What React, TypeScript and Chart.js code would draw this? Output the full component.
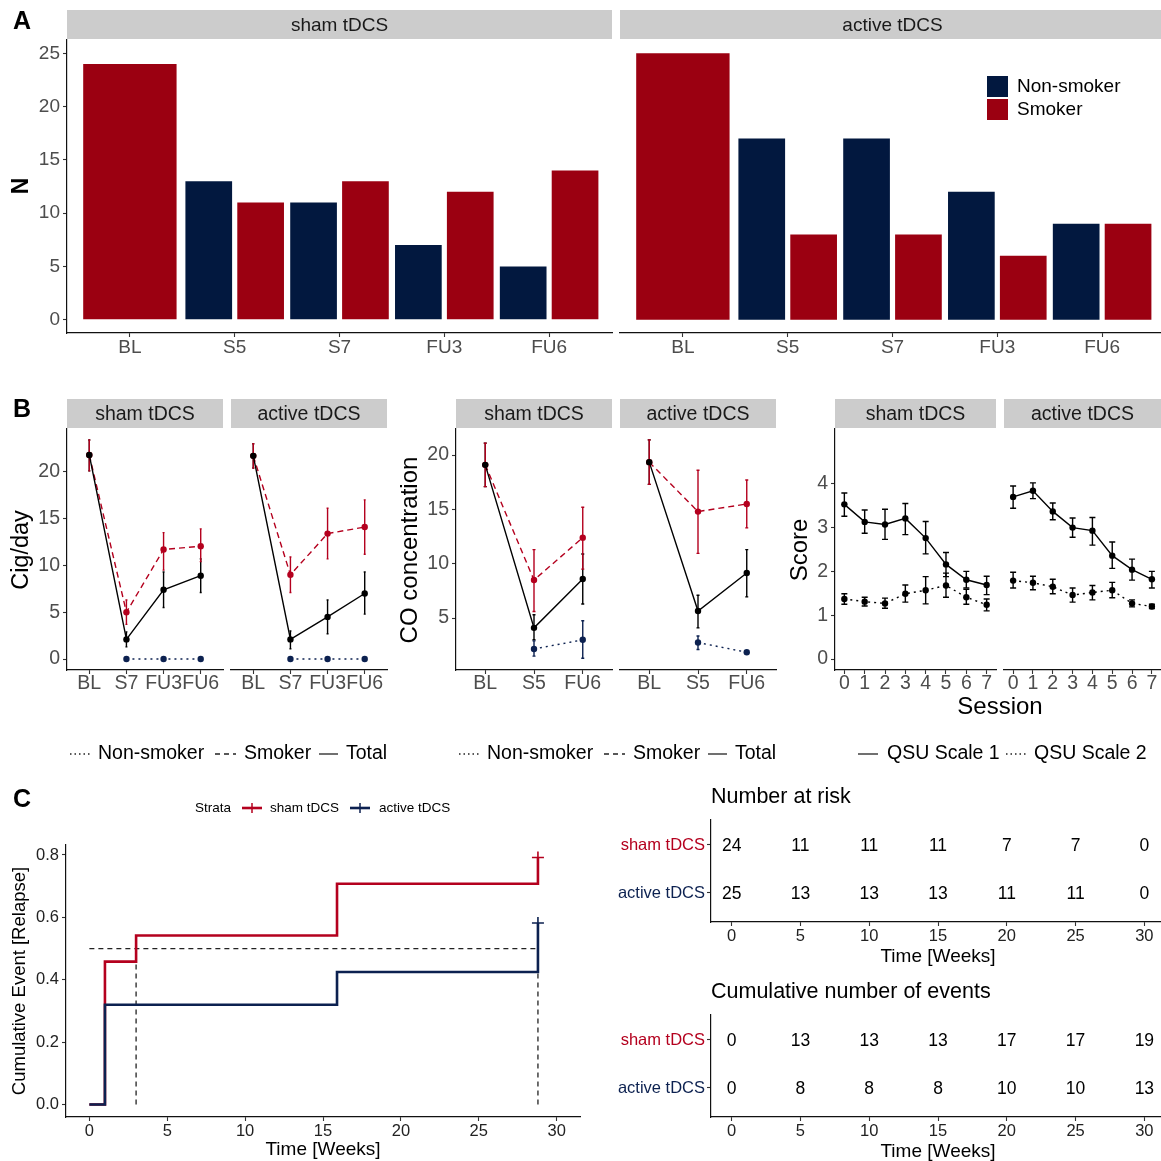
import React, { useEffect, useRef } from 'react';
import { Chart, registerables } from 'chart.js';

Chart.register(...registerables);

const FONT = "'Liberation Sans', Arial, Helvetica, sans-serif";
const TICK_GREY = '#4d4d4d';
const NAVY_A = '#02183f';
const RED_A = '#9b0011';
const RED = '#b4001e';
const NAVY = '#0c2150';
const STRIP = '#cccccc';

// ---------------- Panel A: counts
const timepointsA = ['BL', 'S5', 'S7', 'FU3', 'FU6'];
const shamNonSmoker = [null, 13, 11, 7, 5];
const shamSmoker = [24, 11, 13, 12, 14];
const activeNonSmoker = [null, 17, 17, 12, 9];
const activeSmoker = [25, 8, 8, 6, 9];
const countTicks = [0, 5, 10, 15, 20, 25];

// ---------------- Panel B: cigarettes per day
const cigTimepoints = ['BL', 'S7', 'FU3', 'FU6'];
const cigShamTotal = [21.8, 2.1, 7.4, 8.9];
const cigShamTotalLo = [20.1, 1.3, 5.5, 7.1];
const cigShamTotalHi = [23.4, 2.9, 9.3, 10.7];
const cigShamSmoker = [21.8, 5.0, 11.7, 12.05];
const cigShamSmokerLo = [20.1, 3.7, 9.5, 10.4];
const cigShamSmokerHi = [23.4, 6.3, 13.5, 13.9];
const cigShamNon = [null, 0, 0, 0];
const cigActiveTotal = [21.7, 2.1, 4.5, 7.0];
const cigActiveTotalLo = [20.4, 1.1, 2.7, 4.8];
const cigActiveTotalHi = [23.0, 3.0, 6.3, 9.3];
const cigActiveSmoker = [21.7, 9.0, 13.4, 14.1];
const cigActiveSmokerLo = [20.4, 7.1, 10.7, 11.2];
const cigActiveSmokerHi = [23.0, 10.9, 16.1, 17.0];
const cigActiveNon = [null, 0, 0, 0];
const cigTicks = [0, 5, 10, 15, 20];

// ---------------- Panel B: CO concentration
const coTimepoints = ['BL', 'S5', 'FU6'];
const coShamTotal = [19.1, 4.1, 8.6];
const coShamTotalLo = [17.1, 3.0, 6.3];
const coShamTotalHi = [21.1, 5.3, 10.9];
const coShamSmoker = [19.1, 8.5, 12.4];
const coShamSmokerLo = [17.1, 5.6, 9.5];
const coShamSmokerHi = [21.1, 11.3, 15.2];
const coShamNon = [null, 2.15, 3.0];
const coShamNonLo = [null, 1.5, 1.3];
const coShamNonHi = [null, 2.9, 4.75];
const coActiveTotal = [19.35, 5.65, 9.15];
const coActiveTotalLo = [17.3, 4.1, 6.95];
const coActiveTotalHi = [21.4, 7.1, 11.3];
const coActiveSmoker = [19.35, 14.8, 15.5];
const coActiveSmokerLo = [17.3, 10.95, 13.3];
const coActiveSmokerHi = [21.4, 18.6, 17.7];
const coActiveNon = [null, 2.75, 1.85];
const coActiveNonLo = [null, 2.1, 1.75];
const coActiveNonHi = [null, 3.35, 1.95];
const coTicks = [5, 10, 15, 20];

// ---------------- Panel B: QSU scores
const sessions = [0, 1, 2, 3, 4, 5, 6, 7];
const qsu1Sham = [3.53, 3.13, 3.07, 3.21, 2.76, 2.16, 1.81, 1.69];
const qsu1ShamLo = [3.26, 2.87, 2.73, 2.84, 2.4, 1.88, 1.62, 1.47];
const qsu1ShamHi = [3.79, 3.4, 3.42, 3.55, 3.14, 2.43, 2.0, 1.89];
const qsu2Sham = [1.37, 1.31, 1.27, 1.49, 1.57, 1.68, 1.41, 1.24];
const qsu2ShamLo = [1.25, 1.21, 1.16, 1.3, 1.26, 1.41, 1.25, 1.1];
const qsu2ShamHi = [1.49, 1.41, 1.39, 1.69, 1.88, 1.96, 1.59, 1.37];
const qsu1Active = [3.7, 3.84, 3.37, 3.0, 2.93, 2.36, 2.04, 1.82];
const qsu1ActiveLo = [3.44, 3.66, 3.18, 2.78, 2.6, 2.07, 1.8, 1.62];
const qsu1ActiveHi = [3.95, 4.02, 3.56, 3.22, 3.23, 2.67, 2.28, 2.0];
const qsu2Active = [1.79, 1.74, 1.65, 1.46, 1.52, 1.57, 1.27, 1.2];
const qsu2ActiveLo = [1.62, 1.58, 1.49, 1.3, 1.35, 1.4, 1.19, 1.15];
const qsu2ActiveHi = [1.98, 1.89, 1.82, 1.62, 1.68, 1.75, 1.35, 1.25];
const scoreTicks = [0, 1, 2, 3, 4];

// ---------------- Panel C: cumulative events (Kaplan-Meier)
const kmShamTimes = [0, 1, 3, 15.9, 28.8];
const kmShamEvent = [0, 0.458, 0.542, 0.708, 0.792];
const kmActiveTimes = [0, 1, 15.9, 28.8];
const kmActiveEvent = [0, 0.32, 0.425, 0.582];
const kmMedianSham = 3;
const kmMedianActive = 28.8;
const kmYTicks = [0, 0.2, 0.4, 0.6, 0.8];
const weekTicks = [0, 5, 10, 15, 20, 25, 30];

// ---------------- Panel C: risk tables
const tableTimes = [0, 5, 10, 15, 20, 25, 30];
const riskSham = [24, 11, 11, 11, 7, 7, 0];
const riskActive = [25, 13, 13, 13, 11, 11, 0];
const eventsSham = [0, 13, 13, 13, 17, 17, 19];
const eventsActive = [0, 8, 8, 8, 10, 10, 13];
const strata = ['sham tDCS', 'active tDCS'];

// ---------------------------------------------------------------
type AxisSpec = {
  min: number;
  max: number;
  ticks: number[];
  fmt?: (v: number) => string;
  show?: boolean;
  size?: number;
  color?: any;
  pad?: number;
  tickLen?: number;
};
type TextItem = {
  t: string;
  x: number;
  y: number;
  size: number;
  bold?: boolean;
  color?: string;
  rot?: boolean;
  align?: CanvasTextAlign;
};
type KeyItem =
  | { kind: 'line'; x0: number; x1: number; y: number; color: string; dash?: number[]; width?: number }
  | { kind: 'box'; x0: number; x1: number; y0: number; y1: number; color: string }
  | { kind: 'vtick'; x: number; y0: number; y1: number; color: string; width?: number };

interface FacetOpts {
  type: 'bar' | 'line' | 'scatter';
  rect: [number, number, number, number];
  pad: { l: number; t: number; r: number; b: number };
  datasets: () => any[];
  x: AxisSpec;
  y: AxisSpec;
  strip?: { text: string; y0: number; y1: number; size: number };
  texts?: TextItem[];
  keys?: KeyItem[];
  cap?: number;
  cellFont?: number;
}
interface Spec {
  left: number;
  top: number;
  w: number;
  h: number;
  make: () => any;
}

function axis(a: AxisSpec, horizontal: boolean, size: number) {
  const show = a.show !== false;
  return {
    type: 'linear',
    bounds: 'data',
    offset: false,
    min: a.min,
    max: a.max,
    afterBuildTicks: (s: any) => {
      s.ticks = a.ticks.map((v) => ({ value: v }));
    },
    afterFit: (s: any) => {
      if (horizontal) s.height = size;
      else s.width = size;
      s.paddingLeft = 0;
      s.paddingRight = 0;
      s.paddingTop = 0;
      s.paddingBottom = 0;
    },
    grid: {
      display: show,
      offset: false,
      drawOnChartArea: false,
      drawTicks: true,
      tickLength: a.tickLen ?? 4,
      tickWidth: 1.1,
      tickColor: '#333333',
    },
    border: { display: show, color: '#111111', width: 1.2 },
    ticks: {
      display: show,
      autoSkip: false,
      maxRotation: 0,
      minRotation: 0,
      padding: a.pad ?? 2,
      color: a.color ?? TICK_GREY,
      font: { family: FONT, size: a.size ?? 18, lineHeight: 1 },
      callback: (v: any) => (a.fmt ? a.fmt(Number(v)) : String(v)),
    },
  };
}

function stripPlugin(s: { text: string; y0: number; y1: number; size: number }, top: number) {
  return {
    id: 'facetStrip',
    afterDraw(chart: any) {
      const { ctx, chartArea } = chart;
      ctx.save();
      ctx.fillStyle = STRIP;
      ctx.fillRect(chartArea.left, s.y0 - top, chartArea.right - chartArea.left, s.y1 - s.y0);
      ctx.fillStyle = '#1a1a1a';
      ctx.font = `${s.size}px ${FONT}`;
      ctx.textAlign = 'center';
      ctx.textBaseline = 'middle';
      ctx.fillText(s.text, (chartArea.left + chartArea.right) / 2, (s.y0 + s.y1) / 2 - top + 1);
      ctx.restore();
    },
  };
}

function errorBarPlugin(cap: number) {
  return {
    id: 'errorBars',
    beforeDatasetsDraw(chart: any) {
      const ctx = chart.ctx;
      const xs = chart.scales.x;
      const ys = chart.scales.y;
      chart.data.datasets.forEach((ds: any) => {
        if (!ds.errLo) return;
        ctx.save();
        ctx.strokeStyle = ds.borderColor;
        ctx.lineWidth = 1.4;
        ctx.setLineDash([]);
        ds.data.forEach((p: any, i: number) => {
          const lo = ds.errLo[i];
          const hi = ds.errHi[i];
          if (lo == null || hi == null || p.y == null) return;
          const x = xs.getPixelForValue(p.x);
          const ya = ys.getPixelForValue(lo);
          const yb = ys.getPixelForValue(hi);
          ctx.beginPath();
          ctx.moveTo(x, ya);
          ctx.lineTo(x, yb);
          if (cap > 0) {
            ctx.moveTo(x - cap, ya);
            ctx.lineTo(x + cap, ya);
            ctx.moveTo(x - cap, yb);
            ctx.lineTo(x + cap, yb);
          }
          ctx.stroke();
        });
        ctx.restore();
      });
    },
  };
}

function cellPlugin(size: number) {
  return {
    id: 'cellLabels',
    afterDatasetsDraw(chart: any) {
      const ctx = chart.ctx;
      ctx.save();
      ctx.font = `${size}px ${FONT}`;
      ctx.fillStyle = '#000000';
      ctx.textAlign = 'center';
      ctx.textBaseline = 'middle';
      chart.data.datasets.forEach((ds: any, di: number) => {
        if (!ds.cellLabels) return;
        const meta = chart.getDatasetMeta(di);
        meta.data.forEach((el: any, i: number) => {
          ctx.fillText(String(ds.cellLabels[i]), el.x, el.y + 1);
        });
      });
      ctx.restore();
    },
  };
}

function overlayPlugin(texts: TextItem[], keys: KeyItem[], left: number, top: number) {
  return {
    id: 'overlay',
    afterDraw(chart: any) {
      const ctx = chart.ctx;
      keys.forEach((k) => {
        ctx.save();
        if (k.kind === 'box') {
          ctx.fillStyle = k.color;
          ctx.fillRect(k.x0 - left, k.y0 - top, k.x1 - k.x0, k.y1 - k.y0);
        } else if (k.kind === 'line') {
          ctx.strokeStyle = k.color;
          ctx.lineWidth = k.width ?? 1.3;
          ctx.setLineDash(k.dash ?? []);
          ctx.beginPath();
          ctx.moveTo(k.x0 - left, k.y - top);
          ctx.lineTo(k.x1 - left, k.y - top);
          ctx.stroke();
        } else {
          ctx.strokeStyle = k.color;
          ctx.lineWidth = k.width ?? 1.5;
          ctx.beginPath();
          ctx.moveTo(k.x - left, k.y0 - top);
          ctx.lineTo(k.x - left, k.y1 - top);
          ctx.stroke();
        }
        ctx.restore();
      });
      texts.forEach((it) => {
        ctx.save();
        ctx.translate(it.x - left, it.y - top);
        if (it.rot) ctx.rotate(-Math.PI / 2);
        ctx.font = `${it.bold ? 'bold ' : ''}${it.size}px ${FONT}`;
        ctx.fillStyle = it.color ?? '#000000';
        ctx.textAlign = it.align ?? 'center';
        ctx.textBaseline = 'middle';
        ctx.fillText(it.t, 0, 0);
        ctx.restore();
      });
    },
  };
}

function makeFacet(o: FacetOpts): Spec {
  const [x0, y0, x1, y1] = o.rect;
  const { l, t, r, b } = o.pad;
  const left = x0 - l;
  const top = y0 - t;
  const w = x1 - x0 + l + r;
  const h = y1 - y0 + t + b;
  const make = () => {
    const plugins: any[] = [];
    if (o.strip) plugins.push(stripPlugin(o.strip, top));
    if (o.cap !== undefined) plugins.push(errorBarPlugin(o.cap));
    if (o.cellFont) plugins.push(cellPlugin(o.cellFont));
    plugins.push(overlayPlugin(o.texts ?? [], o.keys ?? [], left, top));
    return {
      type: o.type,
      data: { datasets: o.datasets() },
      options: {
        responsive: false,
        maintainAspectRatio: false,
        animation: false,
        devicePixelRatio: 1,
        events: [],
        layout: { padding: { left: 0, top: t, right: r, bottom: 0 } },
        plugins: {
          legend: { display: false },
          tooltip: { enabled: false },
          title: { display: false },
        },
        scales: {
          x: axis(o.x, true, b),
          y: axis(o.y, false, l),
        },
      },
      plugins,
    };
  };
  return { left, top, w, h, make };
}

// ---------------- dataset helpers
function barSets(non: (number | null)[], smk: (number | null)[]) {
  const common = { categoryPercentage: 0.99, barPercentage: 0.9, skipNull: true, borderWidth: 0 };
  return [
    { ...common, label: 'Non-smoker', data: non.map((v, i) => ({ x: i + 1, y: v })), backgroundColor: NAVY_A },
    { ...common, label: 'Smoker', data: smk.map((v, i) => ({ x: i + 1, y: v })), backgroundColor: RED_A },
  ];
}

function series(
  label: string,
  xs: number[],
  ys: (number | null)[],
  lo: (number | null)[] | null,
  hi: (number | null)[] | null,
  color: string,
  dash: number[],
  r = 3.2,
) {
  return {
    label,
    data: xs.map((x, i) => ({ x, y: ys[i] })),
    errLo: lo,
    errHi: hi,
    borderColor: color,
    backgroundColor: color,
    borderWidth: 1.4,
    borderDash: dash,
    pointRadius: ys.map((v) => (v == null ? 0 : r)),
    pointBackgroundColor: color,
    pointBorderColor: color,
    pointBorderWidth: 0,
    tension: 0,
    fill: false,
    spanGaps: false,
  };
}

const idx = (arr: any[]) => arr.map((_, i) => i + 1);
const DOT = [2, 4];
const DASH = [6, 4];

// ---------------- Specs
const specs: Spec[] = [];

// Panel A
const A_TICK = 19;
specs.push(
  makeFacet({
    type: 'bar',
    rect: [67, 40, 612, 333],
    pad: { l: 67, t: 40, r: 5, b: 30 },
    datasets: () => barSets(shamNonSmoker, shamSmoker),
    x: { min: 0.4, max: 5.6, ticks: [1, 2, 3, 4, 5], fmt: (v) => timepointsA[v - 1], size: A_TICK, pad: 1 },
    y: { min: -1.25, max: 26.25, ticks: countTicks, size: A_TICK, pad: 3 },
    strip: { text: 'sham tDCS', y0: 10, y1: 39, size: 19 },
    texts: [
      { t: 'A', x: 22, y: 22, size: 25, bold: true },
      { t: 'N', x: 22, y: 186, size: 23, bold: true, rot: true },
    ],
  }),
);
specs.push(
  makeFacet({
    type: 'bar',
    rect: [620, 40, 1165, 333],
    pad: { l: 8, t: 40, r: 0, b: 30 },
    datasets: () => barSets(activeNonSmoker, activeSmoker),
    x: { min: 0.4, max: 5.6, ticks: [1, 2, 3, 4, 5], fmt: (v) => timepointsA[v - 1], size: A_TICK, pad: 1 },
    y: { min: -1.25, max: 26.25, ticks: countTicks, show: false },
    strip: { text: 'active tDCS', y0: 10, y1: 39, size: 19 },
    keys: [
      { kind: 'box', x0: 987, x1: 1008, y0: 76, y1: 97, color: NAVY_A },
      { kind: 'box', x0: 987, x1: 1008, y0: 99, y1: 120, color: RED_A },
    ],
    texts: [
      { t: 'Non-smoker', x: 1017, y: 87, size: 19, align: 'left' },
      { t: 'Smoker', x: 1017, y: 110, size: 19, align: 'left' },
    ],
  }),
);

// Panel B shared
const B_STRIP_Y0 = 399;
const B_STRIP_Y1 = 428;
const B_RECT_Y0 = 429;
const B_RECT_Y1 = 670;
const B_TICK = 19.5;
const LEG_Y = 754;
const LEG_SIZE = 19.5;

function smokerLegend(x: number): { keys: KeyItem[]; texts: TextItem[] } {
  return {
    keys: [
      { kind: 'line', x0: x, x1: x + 20, y: LEG_Y, color: '#222', dash: [1.5, 3] },
      { kind: 'line', x0: x + 145, x1: x + 166, y: LEG_Y, color: '#222', dash: [5, 4] },
      { kind: 'line', x0: x + 249, x1: x + 268, y: LEG_Y, color: '#222' },
    ],
    texts: [
      { t: 'Non-smoker', x: x + 28, y: LEG_Y, size: LEG_SIZE, align: 'left' },
      { t: 'Smoker', x: x + 174, y: LEG_Y, size: LEG_SIZE, align: 'left' },
      { t: 'Total', x: x + 276, y: LEG_Y, size: LEG_SIZE, align: 'left' },
    ],
  };
}

// Cig/day
const leg1 = smokerLegend(70);
specs.push(
  makeFacet({
    type: 'line',
    rect: [67, B_RECT_Y0, 223, B_RECT_Y1],
    pad: { l: 67, t: 45, r: 172, b: 100 },
    datasets: () => [
      series('Total', idx(cigTimepoints), cigShamTotal, cigShamTotalLo, cigShamTotalHi, '#000000', []),
      series('Smoker', idx(cigTimepoints), cigShamSmoker, cigShamSmokerLo, cigShamSmokerHi, RED, DASH),
      series('Non-smoker', idx(cigTimepoints), cigShamNon, null, null, NAVY, DOT),
    ],
    x: { min: 0.4, max: 4.6, ticks: [1, 2, 3, 4], fmt: (v) => cigTimepoints[v - 1], size: B_TICK, pad: 0 },
    y: { min: -1.17, max: 24.57, ticks: cigTicks, size: B_TICK, pad: 3 },
    strip: { text: 'sham tDCS', y0: B_STRIP_Y0, y1: B_STRIP_Y1, size: B_TICK },
    cap: 1,
    keys: leg1.keys,
    texts: [
      { t: 'B', x: 22, y: 410, size: 25, bold: true },
      { t: 'Cig/day', x: 22, y: 550, size: 23.5, rot: true },
      ...leg1.texts,
    ],
  }),
);
specs.push(
  makeFacet({
    type: 'line',
    rect: [231, B_RECT_Y0, 387, B_RECT_Y1],
    pad: { l: 6, t: 35, r: 10, b: 30 },
    datasets: () => [
      series('Total', idx(cigTimepoints), cigActiveTotal, cigActiveTotalLo, cigActiveTotalHi, '#000000', []),
      series('Smoker', idx(cigTimepoints), cigActiveSmoker, cigActiveSmokerLo, cigActiveSmokerHi, RED, DASH),
      series('Non-smoker', idx(cigTimepoints), cigActiveNon, null, null, NAVY, DOT),
    ],
    x: { min: 0.4, max: 4.6, ticks: [1, 2, 3, 4], fmt: (v) => cigTimepoints[v - 1], size: B_TICK, pad: 0 },
    y: { min: -1.17, max: 24.57, ticks: cigTicks, show: false },
    strip: { text: 'active tDCS', y0: B_STRIP_Y0, y1: B_STRIP_Y1, size: B_TICK },
    cap: 1,
  }),
);

// CO concentration
const leg2 = smokerLegend(459);
specs.push(
  makeFacet({
    type: 'line',
    rect: [456, B_RECT_Y0, 612, B_RECT_Y1],
    pad: { l: 70, t: 35, r: 170, b: 100 },
    datasets: () => [
      series('Total', idx(coTimepoints), coShamTotal, coShamTotalLo, coShamTotalHi, '#000000', []),
      series('Smoker', idx(coTimepoints), coShamSmoker, coShamSmokerLo, coShamSmokerHi, RED, DASH),
      series('Non-smoker', idx(coTimepoints), coShamNon, coShamNonLo, coShamNonHi, NAVY, DOT),
    ],
    x: { min: 0.4, max: 3.6, ticks: [1, 2, 3], fmt: (v) => coTimepoints[v - 1], size: B_TICK, pad: 0 },
    y: { min: 0.22, max: 22.4, ticks: coTicks, size: B_TICK, pad: 3 },
    strip: { text: 'sham tDCS', y0: B_STRIP_Y0, y1: B_STRIP_Y1, size: B_TICK },
    cap: 1.5,
    keys: leg2.keys,
    texts: [{ t: 'CO concentration', x: 410, y: 550, size: 24, rot: true }, ...leg2.texts],
  }),
);
specs.push(
  makeFacet({
    type: 'line',
    rect: [620, B_RECT_Y0, 776, B_RECT_Y1],
    pad: { l: 6, t: 35, r: 10, b: 30 },
    datasets: () => [
      series('Total', idx(coTimepoints), coActiveTotal, coActiveTotalLo, coActiveTotalHi, '#000000', []),
      series('Smoker', idx(coTimepoints), coActiveSmoker, coActiveSmokerLo, coActiveSmokerHi, RED, DASH),
      series('Non-smoker', idx(coTimepoints), coActiveNon, coActiveNonLo, coActiveNonHi, NAVY, DOT),
    ],
    x: { min: 0.4, max: 3.6, ticks: [1, 2, 3], fmt: (v) => coTimepoints[v - 1], size: B_TICK, pad: 0 },
    y: { min: 0.22, max: 22.4, ticks: coTicks, show: false },
    strip: { text: 'active tDCS', y0: B_STRIP_Y0, y1: B_STRIP_Y1, size: B_TICK },
    cap: 1.5,
  }),
);

// QSU scores
specs.push(
  makeFacet({
    type: 'line',
    rect: [835, B_RECT_Y0, 996, B_RECT_Y1],
    pad: { l: 55, t: 35, r: 170, b: 100 },
    datasets: () => [
      series('QSU Scale 1', sessions, qsu1Sham, qsu1ShamLo, qsu1ShamHi, '#000000', []),
      series('QSU Scale 2', sessions, qsu2Sham, qsu2ShamLo, qsu2ShamHi, '#000000', DOT),
    ],
    x: { min: -0.46, max: 7.46, ticks: sessions, size: B_TICK, pad: 0 },
    y: { min: -0.25, max: 5.25, ticks: scoreTicks, size: B_TICK, pad: 3 },
    strip: { text: 'sham tDCS', y0: B_STRIP_Y0, y1: B_STRIP_Y1, size: B_TICK },
    cap: 3,
    keys: [
      { kind: 'line', x0: 858, x1: 878, y: LEG_Y, color: '#222' },
      { kind: 'line', x0: 1006, x1: 1026, y: LEG_Y, color: '#222', dash: [1.5, 3] },
    ],
    texts: [
      { t: 'Score', x: 800, y: 550, size: 24, rot: true },
      { t: 'Session', x: 1000, y: 707, size: 24 },
      { t: 'QSU Scale 1', x: 887, y: LEG_Y, size: LEG_SIZE, align: 'left' },
      { t: 'QSU Scale 2', x: 1034, y: LEG_Y, size: LEG_SIZE, align: 'left' },
    ],
  }),
);
specs.push(
  makeFacet({
    type: 'line',
    rect: [1004, B_RECT_Y0, 1165, B_RECT_Y1],
    pad: { l: 6, t: 35, r: 0, b: 30 },
    datasets: () => [
      series('QSU Scale 1', sessions, qsu1Active, qsu1ActiveLo, qsu1ActiveHi, '#000000', []),
      series('QSU Scale 2', sessions, qsu2Active, qsu2ActiveLo, qsu2ActiveHi, '#000000', DOT),
    ],
    x: { min: -0.46, max: 7.46, ticks: sessions, size: B_TICK, pad: 0 },
    y: { min: -0.25, max: 5.25, ticks: scoreTicks, show: false },
    strip: { text: 'active tDCS', y0: B_STRIP_Y0, y1: B_STRIP_Y1, size: B_TICK },
    cap: 3,
  }),
);

// Panel C: KM plot
function kmLine(label: string, xs: number[], ys: number[], color: string) {
  return {
    label,
    data: xs.map((x, i) => ({ x, y: ys[i] })),
    borderColor: color,
    backgroundColor: color,
    borderWidth: 2.6,
    pointRadius: 0,
    stepped: true,
    tension: 0,
    fill: false,
  };
}
function censor(label: string, x: number, y: number, color: string) {
  return {
    label,
    data: [{ x, y }],
    showLine: false,
    pointStyle: 'cross',
    pointRadius: 6,
    borderWidth: 1.6,
    pointBorderColor: color,
    borderColor: color,
    backgroundColor: color,
  };
}
function dashed(label: string, pts: { x: number; y: number }[]) {
  return {
    label,
    data: pts,
    borderColor: '#222222',
    borderWidth: 1.3,
    borderDash: [5, 4],
    pointRadius: 0,
    tension: 0,
    fill: false,
  };
}
specs.push(
  makeFacet({
    type: 'line',
    rect: [66, 845, 580, 1117],
    pad: { l: 66, t: 65, r: 15, b: 44 },
    datasets: () => [
      censor('active censor', kmActiveTimes[kmActiveTimes.length - 1], kmActiveEvent[kmActiveEvent.length - 1], NAVY),
      censor('sham censor', kmShamTimes[kmShamTimes.length - 1], kmShamEvent[kmShamEvent.length - 1], RED),
      kmLine('active tDCS', kmActiveTimes, kmActiveEvent, NAVY),
      kmLine('sham tDCS', kmShamTimes, kmShamEvent, RED),
      dashed('median h', [
        { x: 0, y: 0.5 },
        { x: kmMedianActive, y: 0.5 },
      ]),
      dashed('median sham', [
        { x: kmMedianSham, y: 0 },
        { x: kmMedianSham, y: 0.5 },
      ]),
      dashed('median active', [
        { x: kmMedianActive, y: 0 },
        { x: kmMedianActive, y: 0.5 },
      ]),
    ],
    x: { min: -1.5, max: 31.5, ticks: weekTicks, size: 16.5, pad: 2, color: '#222' },
    y: { min: -0.04, max: 0.832, ticks: kmYTicks, fmt: (v) => v.toFixed(1), size: 16.5, pad: 3, color: '#222' },
    keys: [
      { kind: 'line', x0: 242, x1: 262, y: 808, color: RED, width: 2.6 },
      { kind: 'vtick', x: 252, y0: 803, y1: 813, color: RED },
      { kind: 'line', x0: 350, x1: 370, y: 808, color: NAVY, width: 2.6 },
      { kind: 'vtick', x: 360, y0: 803, y1: 813, color: NAVY },
    ],
    texts: [
      { t: 'C', x: 22, y: 800, size: 25, bold: true },
      { t: 'Cumulative Event [Relapse]', x: 20, y: 981, size: 18.5, rot: true },
      { t: 'Time [Weeks]', x: 323, y: 1150, size: 19 },
      { t: 'Strata', x: 195, y: 808, size: 13.5, align: 'left' },
      { t: 'sham tDCS', x: 270, y: 808, size: 13.5, align: 'left' },
      { t: 'active tDCS', x: 379, y: 808, size: 13.5, align: 'left' },
    ],
  }),
);

// Panel C tables
function tableSets(sham: number[], active: number[]) {
  return [
    { label: strata[0], data: tableTimes.map((t) => ({ x: t, y: 2 })), cellLabels: sham, pointRadius: 0, showLine: false },
    { label: strata[1], data: tableTimes.map((t) => ({ x: t, y: 1 })), cellLabels: active, pointRadius: 0, showLine: false },
  ];
}
const stratumColor = (c: any) => (c.tick && c.tick.value === 2 ? RED : NAVY);
function tableSpec(y0: number, title: string, sham: number[], active: number[]): Spec {
  return makeFacet({
    type: 'scatter',
    rect: [711, y0, 1165, y0 + 102],
    pad: { l: 111, t: 40, r: 0, b: 46 },
    datasets: () => tableSets(sham, active),
    x: { min: -1.5, max: 31.5, ticks: tableTimes, size: 16.5, pad: 2, color: '#222' },
    y: {
      min: 0.396,
      max: 2.52,
      ticks: [1, 2],
      fmt: (v) => (v === 2 ? strata[0] : strata[1]),
      size: 16.5,
      pad: 2,
      color: stratumColor,
    },
    cellFont: 17.5,
    texts: [
      { t: title, x: 711, y: y0 - 23, size: 21.5, align: 'left' },
      { t: 'Time [Weeks]', x: 938, y: y0 + 137, size: 19 },
    ],
  });
}
specs.push(tableSpec(820, 'Number at risk', riskSham, riskActive));
specs.push(tableSpec(1015, 'Cumulative number of events', eventsSham, eventsActive));

// ---------------------------------------------------------------
function ChartCanvas({ spec }: { spec: Spec }) {
  const ref = useRef<HTMLCanvasElement | null>(null);
  useEffect(() => {
    if (!ref.current) return;
    const chart = new Chart(ref.current, spec.make());
    return () => chart.destroy();
  }, [spec]);
  return (
    <canvas
      ref={ref}
      width={spec.w}
      height={spec.h}
      style={{ position: 'absolute', left: spec.left, top: spec.top, width: spec.w, height: spec.h }}
    />
  );
}

export default function App() {
  return (
    <div
      style={{
        position: 'absolute',
        left: 0,
        top: 0,
        width: 1161,
        height: 1161,
        overflow: 'hidden',
        background: '#ffffff',
      }}
    >
      {specs.map((s, i) => (
        <ChartCanvas key={i} spec={s} />
      ))}
    </div>
  );
}
